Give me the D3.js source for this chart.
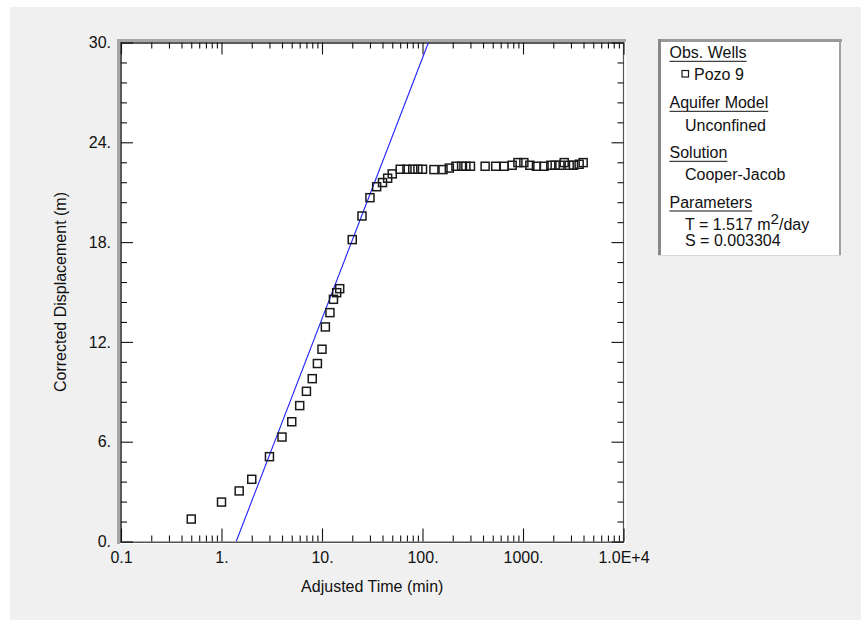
<!DOCTYPE html>
<html>
<head>
<meta charset="utf-8">
<script src="https://cdn.jsdelivr.net/npm/d3@7"></script>
<style>
  html, body { margin: 0; padding: 0; background: #ffffff; }
  svg { display: block; }
  text { font-family: "Liberation Sans", Arial, sans-serif; fill: #111; }
</style>
</head>
<body>
<svg id="chart" width="861" height="620"></svg>
<script>
// ---- Data ----
const timeMin = [0.5, 1, 1.5, 2, 3, 4, 5, 6, 7, 8, 9, 10, 10.8, 12, 13, 14, 15, 20, 25, 30,
  35, 40, 45, 50, 60, 70, 80, 90, 100, 130, 160, 185, 215, 245, 270, 300, 420, 535, 650, 780,
  890, 1020, 1170, 1360, 1620, 1890, 2090, 2330, 2570, 2880, 3180, 3620, 3970];
const drawdown = [1.35, 2.37, 3.04, 3.74, 5.1, 6.28, 7.2, 8.17, 9.03, 9.79, 10.7, 11.56, 12.9, 13.76, 14.56, 14.96, 15.2, 18.15, 19.57, 20.67,
  21.33, 21.58, 21.84, 22.1, 22.38, 22.38, 22.38, 22.38, 22.38, 22.36, 22.36, 22.45, 22.56, 22.56, 22.56, 22.56, 22.56, 22.56, 22.56, 22.62,
  22.78, 22.78, 22.62, 22.56, 22.56, 22.62, 22.62, 22.62, 22.78, 22.62, 22.62, 22.68, 22.78];
// Cooper-Jacob straight line (two end points)
const fitTime = [1.40, 114.6];
const fitDrawdown = [0, 30];

const xTickValues = [0.1, 1, 10, 100, 1000, 10000];
const xTickLabels = ["0.1", "1.", "10.", "100.", "1000.", "1.0E+4"];
const yTickValues = [0, 6, 12, 18, 24, 30];
const yTickLabels = ["0.", "6.", "12.", "18.", "24.", "30."];

const legendHeaders = ["Obs. Wells", "Aquifer Model", "Solution", "Parameters"];
const wellName = "Pozo 9";
const aquiferModel = "Unconfined";
const solutionName = "Cooper-Jacob";
const paramT = "1.517";
const paramS = "0.003304";

// ---- Layout ----
const svg = d3.select("#chart");
const FS = 16;
const L = 121, R = 623.5, T = 42.5, B = 541.5;

// background
svg.append("rect").attr("x", 10).attr("y", 7).attr("width", 851).attr("height", 613).attr("fill", "#f0f0f0");

const x = d3.scaleLog().domain([0.1, 10000]).range([L, R]);
const y = d3.scaleLinear().domain([0, 30]).range([B, T]);

// plot area
svg.append("rect").attr("x", 117).attr("y", 39).attr("width", 509).attr("height", 505).attr("fill", "#ffffff");
// bevel
svg.append("line").attr("x1", 117).attr("x2", 626).attr("y1", 40.5).attr("y2", 40.5).attr("stroke", "#a8a8a8").attr("stroke-width", 3);
svg.append("line").attr("x1", 118.5).attr("x2", 118.5).attr("y1", 39).attr("y2", 544).attr("stroke", "#a8a8a8").attr("stroke-width", 3);
// frame
svg.append("line").attr("x1", 121).attr("x2", 121).attr("y1", 42).attr("y2", 543).attr("stroke", "#5a5a5a").attr("stroke-width", 2);
svg.append("line").attr("x1", 120).attr("x2", 624).attr("y1", 43).attr("y2", 43).attr("stroke", "#5a5a5a").attr("stroke-width", 2);
svg.append("line").attr("x1", 623.5).attr("x2", 623.5).attr("y1", 42).attr("y2", 543).attr("stroke", "#555").attr("stroke-width", 1.2);
svg.append("line").attr("x1", 120).attr("x2", 624).attr("y1", 542.2).attr("y2", 542.2).attr("stroke", "#555").attr("stroke-width", 1.5);

// minor ticks
const xMinor = [];
for (let d = 0.1; d < 10000; d *= 10) for (let k = 2; k <= 9; k++) xMinor.push(d * k);
const yMinor = d3.range(0, 30.001, 1.2).filter(v => yTickValues.indexOf(Math.round(v * 10) / 10) < 0);

function styleAxis(g) {
  g.select(".domain").remove();
  g.selectAll(".tick line").attr("stroke", "#111").attr("stroke-width", 1.1);
  g.selectAll(".tick text").attr("font-size", FS).attr("fill", "#111")
    .attr("font-family", "Liberation Sans, Arial, sans-serif");
}

// bottom
svg.append("g").attr("transform", `translate(0,${B})`)
  .call(d3.axisBottom(x).tickValues(xMinor).tickSize(-6).tickFormat(""))
  .call(styleAxis);
svg.append("g").attr("transform", `translate(0,${B})`)
  .call(d3.axisBottom(x).tickValues(xTickValues).tickSize(-13).tickPadding(10)
    .tickFormat((d, i) => xTickLabels[i]))
  .call(styleAxis);
// top
svg.append("g").attr("transform", `translate(0,${T})`)
  .call(d3.axisTop(x).tickValues(xMinor).tickSize(-6).tickFormat(""))
  .call(styleAxis);
svg.append("g").attr("transform", `translate(0,${T})`)
  .call(d3.axisTop(x).tickValues(xTickValues).tickSize(-12).tickFormat(""))
  .call(styleAxis);
// left
svg.append("g").attr("transform", `translate(${L},0)`)
  .call(d3.axisLeft(y).tickValues(yMinor).tickSize(-6).tickFormat(""))
  .call(styleAxis);
svg.append("g").attr("transform", `translate(${L},0)`)
  .call(d3.axisLeft(y).tickValues(yTickValues).tickSize(-12).tickPadding(10)
    .tickFormat((d, i) => yTickLabels[i]))
  .call(styleAxis);
// right
svg.append("g").attr("transform", `translate(${R},0)`)
  .call(d3.axisRight(y).tickValues(yMinor).tickSize(-6).tickFormat(""))
  .call(styleAxis);
svg.append("g").attr("transform", `translate(${R},0)`)
  .call(d3.axisRight(y).tickValues(yTickValues).tickSize(-12).tickFormat(""))
  .call(styleAxis);

// axis titles
svg.append("text").attr("x", (L + R) / 2).attr("y", 591.5).attr("text-anchor", "middle")
  .attr("font-size", FS).text("Adjusted Time (min)");
svg.append("text").attr("transform", `translate(66,${(T + B) / 2}) rotate(-90)`)
  .attr("text-anchor", "middle").attr("font-size", FS).text("Corrected Displacement (m)");

// clip
svg.append("clipPath").attr("id", "clip").append("rect")
  .attr("x", L).attr("y", T).attr("width", R - L).attr("height", B - T);

// fit line
const fitData = fitTime.map((t, i) => [t, fitDrawdown[i]]);
svg.append("path").datum(fitData).attr("clip-path", "url(#clip)")
  .attr("d", d3.line().x(d => x(d[0])).y(d => y(d[1])))
  .attr("fill", "none").attr("stroke", "#2020ff").attr("stroke-width", 1.1);

// points
const pts = timeMin.map((t, i) => [t, drawdown[i]]);
const M = 8;
svg.append("g").selectAll("rect").data(pts).join("rect")
  .attr("x", d => x(d[0]) - M / 2).attr("y", d => y(d[1]) - M / 2)
  .attr("width", M).attr("height", M)
  .attr("fill", "none").attr("stroke", "#1a1a1a").attr("stroke-width", 1.5);

// ---- Legend ----
const lg = svg.append("g");
lg.append("rect").attr("x", 658).attr("y", 39).attr("width", 183).attr("height", 217).attr("fill", "#ffffff");
lg.append("line").attr("x1", 658).attr("x2", 842).attr("y1", 40.5).attr("y2", 40.5).attr("stroke", "#9a9a9a").attr("stroke-width", 3);
lg.append("line").attr("x1", 659.5).attr("x2", 659.5).attr("y1", 39).attr("y2", 256).attr("stroke", "#888").attr("stroke-width", 3);
lg.append("line").attr("x1", 840).attr("x2", 840).attr("y1", 39).attr("y2", 256).attr("stroke", "#a0a0a0").attr("stroke-width", 2);
lg.append("line").attr("x1", 658).attr("x2", 841).attr("y1", 255.5).attr("y2", 255.5).attr("stroke", "#d8d8d8").attr("stroke-width", 1);

const headerY = [58, 108, 158, 207.7];
legendHeaders.forEach((h, i) => {
  const t = lg.append("text").attr("x", 669.5).attr("y", headerY[i]).attr("font-size", FS).text(h);
  const w = t.node().getComputedTextLength();
  lg.append("line").attr("x1", 669.5).attr("x2", 669.5 + w).attr("y1", headerY[i] + 3.3).attr("y2", headerY[i] + 3.3)
    .attr("stroke", "#111").attr("stroke-width", 1);
});
lg.append("rect").attr("x", 682).attr("y", 70.5).attr("width", 6.5).attr("height", 6.5)
  .attr("fill", "none").attr("stroke", "#1a1a1a").attr("stroke-width", 1.2);
lg.append("text").attr("x", 694).attr("y", 80).attr("font-size", FS).text(wellName);
lg.append("text").attr("x", 685).attr("y", 130.5).attr("font-size", FS).text(aquiferModel);
lg.append("text").attr("x", 685).attr("y", 180).attr("font-size", FS).text(solutionName);
const tt = lg.append("text").attr("x", 685).attr("y", 230).attr("font-size", FS);
tt.append("tspan").text("T = " + paramT + " m");
tt.append("tspan").attr("dy", -6).attr("font-size", FS * 0.95).text("2");
tt.append("tspan").attr("dy", 6).text("/day");
lg.append("text").attr("x", 685).attr("y", 246).attr("font-size", FS).text("S = " + paramS);
</script>
</body>
</html>
